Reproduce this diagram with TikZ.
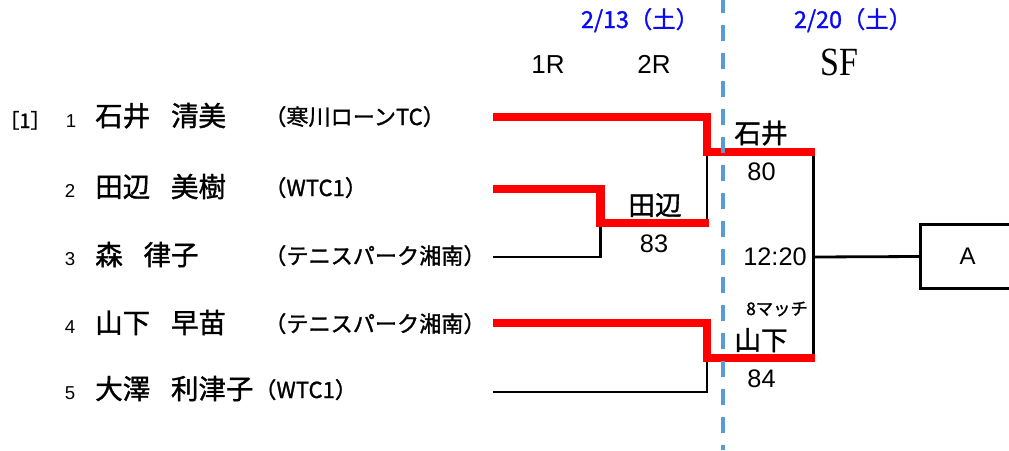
\documentclass[tikz,border=0pt]{standalone}
\usepackage{fontspec}
\setmainfont{Liberation Sans}
\newfontfamily\jp[FakeBold=1.3]{Noto Sans CJK JP}
\newfontfamily\serifx{Liberation Serif}
\definecolor{redl}{RGB}{255,0,0}
\definecolor{dashblue}{RGB}{91,155,213}
\definecolor{hdrblue}{RGB}{10,10,245}
\tikzset{
  plname/.style={anchor=base west, inner sep=0pt, font=\jp\fontsize{20.6}{24}\selectfont},
  plclub/.style={anchor=base west, inner sep=0pt, font=\jp\fontsize{16.6}{18}\selectfont},
  plnum/.style={anchor=base, inner sep=0pt, font=\fontsize{14}{16}\selectfont},
  hdrtext/.style={anchor=base, inner sep=0pt, font=\jp\fontsize{17.5}{20}\selectfont, text=hdrblue},
  rndtext/.style={anchor=base, inner sep=0pt, font=\fontsize{19.5}{23}\selectfont},
  wintext/.style={anchor=base, inner sep=0pt, font=\jp\fontsize{20}{24}\selectfont},
  scoretext/.style={anchor=base, inner sep=0pt, font=\fontsize{19}{23}\selectfont},
  redpath/.style={line width=6.2pt, draw=redl, line join=miter},
  blkpath/.style={line width=2.1pt, draw=black},
  divider/.style={line width=3.2pt, draw=dashblue, dash pattern=on 12pt off 9pt, dash phase=2.25pt}
}
\begin{document}
\begin{tikzpicture}[x=0.75pt, y=-0.75pt]
\useasboundingbox (0,0) rectangle (1009,450);
\clip (0,0) rectangle (1009,450);

% headers
\node[hdrtext] (d1) at (640,28) {2/13（土）};
\node[hdrtext] (d2) at (853,28) {2/20（土）};
\node[rndtext] (r1) at (548,73) {1R};
\node[rndtext] (r2) at (654,73) {2R};
\node[anchor=base, inner sep=0pt, font=\serifx\fontsize{30}{34}\selectfont] (sf) at (839,75) {\scalebox{0.85}[1]{SF}};

% seed
\node[anchor=base, inner sep=0pt, font=\jp\fontsize{15}{17}\selectfont] (seed) at (25,128) {［1］};

% players
\node[plnum] (n1) at (71,127) {1};
\node[plnum] (n2) at (70,197) {2};
\node[plnum] (n3) at (70,265) {3};
\node[plnum] (n4) at (70,333) {4};
\node[plnum] (n5) at (70,399) {5};

\node[plname] (p1) at (95,126) {石井\hspace{0.76em}清美};
\node[plname] (p2) at (95,197) {田辺\hspace{0.76em}美樹};
\node[plname] (p3) at (95,265) {森\hspace{0.76em}律子};
\node[plname] (p4) at (95,333) {山下\hspace{0.76em}早苗};
\node[plname] (p5) at (95,399) {大澤\hspace{0.76em}利津子};

\node[plclub] (c1) at (264,125) {（寒川ローンTC）};
\node[plclub] (c2) at (264,196) {（WTC1）};
\node[plclub] (c3) at (264,264) {（テニスパーク湘南）};
\node[plclub] (c4) at (264,332) {（テニスパーク湘南）};
\node[plclub] (c5) at (254,398) {（WTC1）};

% bracket coordinates
\coordinate (s1) at (493,117);
\coordinate (s2) at (493,189);
\coordinate (s3) at (493,257);
\coordinate (s4) at (493,323);
\coordinate (s5) at (493,392);
\coordinate (m23) at (600.5,223);
\coordinate (m23e) at (709,223);
\coordinate (q1) at (707,152);
\coordinate (q1e) at (815,152);
\coordinate (q1b) at (707,223);
\coordinate (q2) at (707,358);
\coordinate (q2e) at (815,358);
\coordinate (f1) at (813.5,152);
\coordinate (f2) at (813.5,358);
\coordinate (fm) at (813.5,257);

\node[draw, line width=2.1pt, minimum width=70.5pt, minimum height=48pt, inner sep=0pt, font=\fontsize{18}{22}\selectfont] (A) at (967.5,256.5) {A};

% black lines
\draw[blkpath] (s3) -| (m23);
\draw[blkpath] (q1) -- (q1b);
\draw[blkpath] (s5) -| (q2);
\draw[blkpath] (f1) -- (f2);
\draw[blkpath] (fm) -- (A.west);

% red lines
\draw[redpath] (s1) -| (q1) -- (q1e);
\draw[redpath] (s2) -| (m23) -- (m23e);
\draw[redpath] (s4) -| (q2) -- (q2e);

% results
\node[wintext] (w1) at (761,143) {石井};
\node[scoretext] (sc1) at (761.5,180) {80};
\node[wintext] (w2) at (655,215) {田辺};
\node[scoretext] (sc2) at (654,252) {83};
\node[scoretext] (tm) at (775,265) {12:20};
\node[anchor=base, inner sep=0pt, font=\jp\fontsize{13}{15}\selectfont] (mt) at (777,315) {8マッチ};
\node[wintext] (w3) at (761,350) {山下};
\node[scoretext] (sc3) at (761.5,387) {84};

% day divider
\coordinate (dv1) at (723,0);
\coordinate (dv2) at (723,450);
\draw[divider] (dv1) -- (dv2);
\end{tikzpicture}
\end{document}
